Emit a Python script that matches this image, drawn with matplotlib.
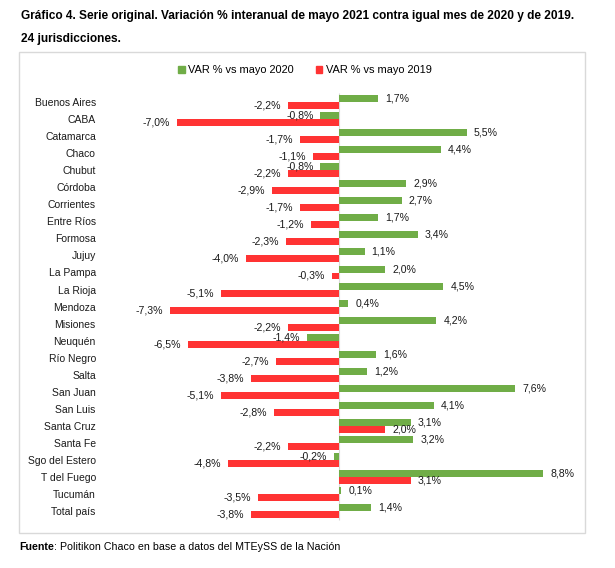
import numpy as np
import matplotlib
matplotlib.use("Agg")
import matplotlib.pyplot as plt
from matplotlib.patches import Rectangle, Patch

plt.rcParams['font.family'] = ['Liberation Sans', 'DejaVu Sans']

provincias = ["Buenos Aires", "CABA", "Catamarca", "Chaco", "Chubut", "Córdoba",
              "Corrientes", "Entre Ríos", "Formosa", "Jujuy", "La Pampa",
              "La Rioja", "Mendoza", "Misiones", "Neuquén", "Río Negro", "Salta",
              "San Juan", "San Luis", "Santa Cruz", "Santa Fe", "Sgo del Estero",
              "T del Fuego", "Tucumán", "Total país"]
var_2020 = [1.7, -0.8, 5.5, 4.4, -0.8, 2.9, 2.7, 1.7, 3.4, 1.1, 2.0, 4.5, 0.4,
            4.2, -1.4, 1.6, 1.2, 7.6, 4.1, 3.1, 3.2, -0.2, 8.8, 0.1, 1.4]
var_2019 = [-2.2, -7.0, -1.7, -1.1, -2.2, -2.9, -1.7, -1.2, -2.3, -4.0, -0.3,
            -5.1, -7.3, -2.2, -6.5, -2.7, -3.8, -5.1, -2.8, 2.0, -2.2, -4.8,
            3.1, -3.5, -3.8]
lbl_2020 = "VAR % vs mayo 2020"
lbl_2019 = "VAR % vs mayo 2019"

verde = "#70AD47"
rojo = "#FF3333"

W, H = 615, 568
fig = plt.figure(figsize=(W / 100, H / 100), dpi=100)

# plot area in pixels
x0, x1, y0, y1 = 100, 580, 85, 525
zero_px, px_per = 339, 23.2
row0, row_px = 102, 17.05
ax = fig.add_axes([x0 / W, 1 - y1 / H, (x1 - x0) / W, (y1 - y0) / H])
ax.set_xlim((x0 - zero_px) / px_per, (x1 - zero_px) / px_per)
ax.set_ylim((y1 - row0) / row_px, (y0 - row0) / row_px)

y = np.arange(len(provincias))
h = 0.41
ax.barh(y - h / 2, var_2020, height=h, color=verde, label=lbl_2020, zorder=2)
ax.barh(y + h / 2, var_2019, height=h, color=rojo, label=lbl_2019, zorder=2)
ax.vlines(0, -0.5, len(provincias) - 0.5, color="#D9D9D9", lw=0.8, zorder=1)

gap = 0.3
for serie, off in ((var_2020, -h / 2), (var_2019, h / 2)):
    for i, v in enumerate(serie):
        txt = f"{v:.1f}%".replace(".", ",")
        if v >= 0:
            ax.text(v + gap, i + off, txt, ha="left", va="center", fontsize=7.6,
                    color="#1a1a1a", zorder=3)
        else:
            ax.text(v - gap, i + off, txt, ha="right", va="center", fontsize=7.6,
                    color="#1a1a1a", zorder=3)

ax.set_yticks(y)
ax.set_yticklabels(provincias, fontsize=7.5, color="#1a1a1a")
ax.tick_params(axis="y", length=0, pad=3)
ax.set_xticks([])
for s in ax.spines.values():
    s.set_visible(False)
ax.patch.set_alpha(0)

handles = [Patch(color=verde, label=lbl_2020), Patch(color=rojo, label=lbl_2019)]
fig.legend(handles=handles, loc="center", bbox_to_anchor=(305 / W, 1 - 70 / H),
           ncol=2, frameon=False, fontsize=7.9, handlelength=0.6,
           handleheight=0.6, handletextpad=0.3, columnspacing=2.0)

# chart frame
fig.patches.append(Rectangle((19 / W, 1 - 533 / H), (585 - 19) / W, (533 - 52) / H,
                             transform=fig.transFigure, fill=False,
                             edgecolor="#D9D9D9", lw=1))

fig.text(21 / W, 1 - 16 / H,
         "Gráfico 4. Serie original. Variación % interanual de mayo 2021 contra igual mes de 2020 y de 2019.",
         fontsize=8.6, fontweight="bold", va="center", ha="left")
fig.text(21 / W, 1 - 39 / H, "24 jurisdicciones.",
         fontsize=8.6, fontweight="bold", va="center", ha="left")

f1 = fig.text(19 / W, 1 - 550 / H, "Fuente", fontsize=7.7, fontweight="bold",
              va="baseline", ha="left")
ax.annotate(": Politikon Chaco en base a datos del MTEySS de la Nación",
            xy=(1, 0), xycoords=f1, xytext=(0, 0), textcoords="offset points",
            fontsize=7.7, va="bottom", ha="left", annotation_clip=False)

fig.savefig("out.png", dpi=100)
